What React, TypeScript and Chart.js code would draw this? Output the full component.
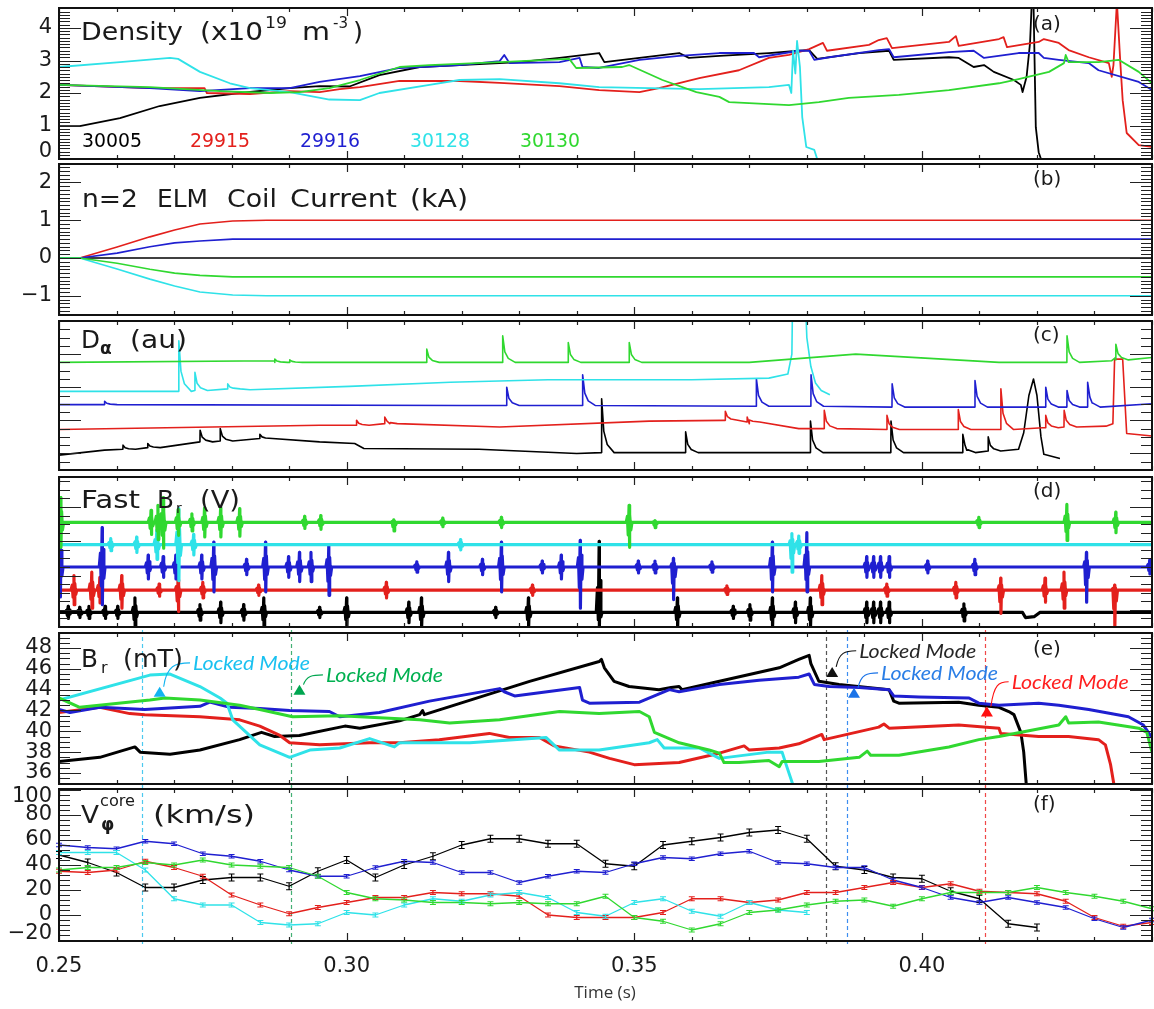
import React, { useEffect, useRef } from 'react';
import { Chart, registerables } from 'chart.js';

Chart.register(...registerables);

type P = [number, number];

const W = 1154;
const H = 1009;
const FONT = '"DejaVu Sans", "Liberation Sans", sans-serif';
const INK = '#1a1a1a';

// ---------- shared axis ----------
const T_START = 0.25;
const T_END = 0.44;
const X_MAJOR = [0.25, 0.3, 0.35, 0.4];
const X_MAJOR_LABELS = ['0.25', '0.30', '0.35', '0.40'];
const X_MINOR_STEP = 0.01;
const X_TITLE = 'Time (s)';

const SHOTS = ['30005', '29915', '29916', '30128', '30130'];
const SHOT_COLORS = ['#000000', '#e3201c', '#1f1fd0', '#2fe2e8', '#30d830'];

// ---------- (a) density ----------
const DENS_30005: P[] = [[0.25,0.98],[0.2536,0.98],[0.2606,1.23],[0.2675,1.6],[0.2745,1.85],[0.2814,2.0],[0.2901,2.15],[0.2953,2.21],[0.3005,2.2],[0.3057,2.55],[0.3127,2.8],[0.3196,2.86],[0.33,2.95],[0.337,3.08],[0.3439,3.23],[0.3448,2.95],[0.3509,3.08],[0.3578,3.23],[0.3595,3.08],[0.3648,3.14],[0.3734,3.23],[0.3786,3.3],[0.3804,3.32],[0.3818,3.05],[0.3891,3.23],[0.3943,3.3],[0.3951,3.02],[0.4047,3.1],[0.4064,3.08],[0.409,2.8],[0.4108,2.86],[0.4125,2.65],[0.416,2.4],[0.4172,2.25],[0.4175,2.03],[0.4182,2.5],[0.4188,3.54],[0.4191,4.8],[0.4194,4.8],[0.4198,0.95],[0.4203,0.18],[0.4207,-0.03]];
const DENS_29915: P[] = [[0.25,2.25],[0.2658,2.15],[0.2753,2.15],[0.2757,2.0],[0.2832,1.97],[0.2901,2.06],[0.2953,2.03],[0.2988,2.12],[0.3023,2.18],[0.3092,2.37],[0.3196,2.37],[0.3266,2.31],[0.337,2.21],[0.3439,2.09],[0.3509,2.03],[0.3543,2.15],[0.3613,2.46],[0.3682,2.7],[0.3734,3.08],[0.3769,3.17],[0.3804,3.35],[0.3828,3.54],[0.3835,3.3],[0.3908,3.48],[0.3925,3.63],[0.3939,3.69],[0.3948,3.38],[0.4047,3.57],[0.4059,3.75],[0.4064,3.45],[0.4134,3.66],[0.4142,3.72],[0.4148,3.41],[0.4203,3.57],[0.4212,3.66],[0.4238,3.54],[0.4255,3.32],[0.429,3.1],[0.4325,2.92],[0.433,2.5],[0.4333,2.86],[0.4339,4.8],[0.4345,2.92],[0.4349,1.78],[0.4356,0.77],[0.4377,0.4],[0.44,0.34]];
const DENS_29916: P[] = [[0.25,2.25],[0.2658,2.15],[0.2745,2.06],[0.2832,2.15],[0.2901,2.15],[0.2953,2.34],[0.3023,2.52],[0.3092,2.77],[0.3196,2.86],[0.3266,2.98],[0.3274,3.17],[0.3283,2.92],[0.337,2.95],[0.3405,3.08],[0.341,2.8],[0.3439,2.77],[0.3509,3.02],[0.3578,3.14],[0.3648,3.23],[0.3708,3.23],[0.3717,3.1],[0.3786,3.3],[0.3804,3.3],[0.3813,3.02],[0.3839,3.1],[0.3925,3.32],[0.3943,3.35],[0.3951,3.1],[0.4047,3.26],[0.409,3.3],[0.4108,3.08],[0.4168,3.23],[0.4203,3.23],[0.4212,3.08],[0.4238,3.02],[0.429,2.92],[0.4307,2.7],[0.4377,2.34],[0.44,2.09]];
const DENS_30128: P[] = [[0.25,2.8],[0.2606,2.95],[0.2693,3.08],[0.2707,3.05],[0.2745,2.65],[0.2797,2.3],[0.2832,2.15],[0.2901,2.03],[0.297,1.8],[0.3023,1.78],[0.3057,2.0],[0.3144,2.25],[0.3196,2.4],[0.3266,2.43],[0.337,2.3],[0.3439,2.18],[0.3526,2.15],[0.3613,2.12],[0.3734,2.18],[0.3769,2.25],[0.3773,2.0],[0.3776,3.3],[0.378,2.6],[0.3783,3.6],[0.3788,2.8],[0.3792,1.26],[0.3799,0.34],[0.3813,0.25],[0.3818,-0.03]];
const DENS_30130: P[] = [[0.25,2.25],[0.2658,2.18],[0.278,2.06],[0.2866,2.0],[0.2918,2.03],[0.297,2.15],[0.3023,2.4],[0.3092,2.8],[0.3144,2.86],[0.3266,2.95],[0.3387,3.05],[0.3399,2.77],[0.3479,2.8],[0.3491,2.86],[0.3549,2.4],[0.3608,2.03],[0.3648,1.88],[0.3665,1.72],[0.3734,1.66],[0.3769,1.63],[0.3821,1.72],[0.3873,1.85],[0.396,1.94],[0.4047,2.09],[0.4134,2.3],[0.4168,2.43],[0.4221,2.65],[0.4247,2.92],[0.425,3.17],[0.4255,2.95],[0.4307,2.95],[0.4342,3.02],[0.4377,2.65],[0.44,2.3]];

// ---------- (b) n=2 ELM coil current ----------
const COIL_30005: P[] = [[0.25,0],[0.44,0]];
const COIL_29915: P[] = [[0.25,0],[0.2536,0],[0.2601,0.29],[0.2658,0.56],[0.2701,0.74],[0.2745,0.9],[0.2802,0.98],[0.2861,1.0],[0.44,1.0]];
const COIL_29916: P[] = [[0.25,0],[0.2536,0],[0.2601,0.13],[0.2658,0.3],[0.2701,0.4],[0.2745,0.45],[0.2802,0.5],[0.44,0.5]];
const COIL_30128: P[] = [[0.25,0],[0.2536,0],[0.2601,-0.29],[0.2658,-0.56],[0.2701,-0.74],[0.2745,-0.9],[0.2802,-0.98],[0.2861,-1.0],[0.44,-1.0]];
const COIL_30130: P[] = [[0.25,0],[0.2536,0],[0.2601,-0.14],[0.2658,-0.3],[0.2701,-0.4],[0.2745,-0.46],[0.2802,-0.5],[0.44,-0.5]];

// ---------- (c) D-alpha: baseline points + ELM spikes [t, base, peak] ----------
const DA_30005_BASE: P[] = [[0.25,1.8],[0.2579,2.4],[0.2745,3.4],[0.2849,3.8],[0.2953,3.4],[0.3014,3.2],[0.303,2.6],[0.323,2.5],[0.34,2.0],[0.4071,2.1],[0.4078,2.4],[0.4168,2.5],[0.4177,4.5],[0.4186,9.0],[0.4194,11.0],[0.42,9.0],[0.4207,4.0],[0.4212,1.9],[0.424,1.4]];
const DA_30005_ELM = [[0.2611,2.5,3.0],[0.2654,2.7,3.2],[0.2745,3.4,4.8],[0.278,3.5,5.0],[0.2849,3.8,4.3],[0.3443,2.1,8.6],[0.3589,2.1,4.6],[0.3806,2.1,5.9],[0.3946,2.1,5.9],[0.4071,2.1,4.3],[0.4115,2.3,4.0]];
const DA_29915_BASE: P[] = [[0.25,4.9],[0.2953,5.4],[0.3075,5.6],[0.3266,5.2],[0.3526,5.9],[0.3655,6.0],[0.37,5.6],[0.3786,5.0],[0.4,4.9],[0.421,5.1],[0.432,5.3],[0.4332,5.6],[0.4335,13.4],[0.4349,13.4],[0.4356,4.4],[0.44,4.1]];
const DA_29915_ELM = [[0.3017,5.4,6.0],[0.3066,5.6,6.4],[0.3658,6.0,7.1],[0.3696,5.8,6.4],[0.383,5.0,7.2],[0.3939,4.9,6.6],[0.4063,4.9,7.3],[0.4137,4.9,9.8],[0.4215,5.1,6.6],[0.4247,5.2,7.2]];
const DA_29916_BASE: P[] = [[0.25,7.9],[0.32,7.8],[0.4,7.6],[0.4288,7.6],[0.4296,8.1],[0.44,8.0]];
const DA_29916_ELM = [[0.2579,7.9,8.3],[0.3278,7.8,10.0],[0.341,7.8,11.5],[0.3712,7.7,11.0],[0.3807,7.7,11.5],[0.3948,7.6,10.4],[0.4092,7.6,10.8],[0.4215,7.6,10.0],[0.4252,7.6,9.6],[0.4288,7.6,10.6]];
const DA_30128_BASE: P[] = [[0.25,9.5],[0.2693,9.5],[0.2832,9.7],[0.3005,10.1],[0.318,10.6],[0.335,10.9],[0.36,10.9],[0.3734,11.1],[0.3767,11.6],[0.3774,14],[0.3776,25],[0.3795,25],[0.38,16],[0.3807,12.5],[0.3815,10.5],[0.3825,9.6],[0.384,9.1]];
const DA_30128_ELM = [[0.2708,9.5,15.6],[0.2736,9.6,11.8],[0.2793,9.8,10.4]];
const DA_30130_BASE: P[] = [[0.25,13.0],[0.2875,13.2],[0.29,13.0],[0.37,13.0],[0.3885,14.0],[0.4134,13.0],[0.4252,13.0],[0.433,13.2],[0.4337,13.6],[0.44,13.6]];
const DA_30130_ELM = [[0.2875,13.0,13.4],[0.2901,13.0,13.3],[0.3139,13.0,14.6],[0.3271,13.0,16.2],[0.3385,13.0,15.4],[0.3491,13.0,15.4],[0.4252,13.0,16.2],[0.4337,13.3,15.2]];

// ---------- (d) fast B_r: offset level + bursts [t, up, down] ----------
const FB_LEVEL = [1.7, 4.3, 7.0, 9.6, 12.2];
const FB_30005 = [[0.2516,0.7],[0.2536,0.6],[0.2552,0.7],[0.258,0.7],[0.2602,0.7],[0.2632,1.7],[0.2745,0.9],[0.2781,1.2],[0.2821,0.9],[0.2856,1.7],[0.2953,0.6],[0.3,1.7],[0.3108,1.2],[0.313,1.7],[0.3259,0.6],[0.3316,1.7],[0.3439,8.3,1.7],[0.3575,1.7],[0.3672,0.7],[0.3701,0.9],[0.374,1.7],[0.378,1.2],[0.3806,1.7],[0.3904,1.2],[0.3916,1.2],[0.3928,1.2],[0.3943,1.2],[0.4073,1.0]];
const FB_30005_DIP: P[] = [[0.4175,1.7],[0.418,1.1],[0.4195,1.2],[0.4205,1.7]];
const FB_29915 = [[0.2526,1.7],[0.2557,2.1],[0.2571,1.5],[0.2609,1.7,2.1],[0.2674,0.7],[0.2707,1.2,2.5],[0.275,0.9],[0.2847,0.6],[0.3069,0.9],[0.3323,0.6],[0.3661,0.5],[0.3826,1.7],[0.3939,0.7],[0.4059,0.9],[0.4137,1.4,2.7],[0.4214,1.4],[0.4247,2.1],[0.4335,0.6,4.3]];
const FB_29916 = [[0.2502,4.3,3.5],[0.2575,4.6,4.4],[0.2655,1.4],[0.2681,1.2],[0.2703,1.4],[0.2748,1.4],[0.2769,2.9],[0.2826,0.9],[0.2859,2.9],[0.2899,1.2],[0.2918,1.7],[0.2938,1.7],[0.2969,2.5,3.3],[0.3122,0.6],[0.3177,1.7],[0.3236,0.9],[0.3269,2.9],[0.334,0.7],[0.3373,1.4],[0.3406,3.1,4.8],[0.3507,0.7],[0.3536,0.7],[0.3568,1.0,3.8],[0.3635,0.6],[0.374,2.9],[0.38,4.0,2.9],[0.3904,1.2],[0.3916,1.2],[0.3928,1.2],[0.3943,1.2],[0.401,0.7],[0.4092,0.9],[0.4286,1.7,4.1],[0.4396,0.8]];
const FB_30128 = [[0.259,0.7],[0.2635,0.9],[0.267,1.7],[0.2708,4.2],[0.2734,1.2],[0.3198,0.6],[0.3774,1.3,3.2],[0.3786,1.0]];
const FB_30130 = [[0.2503,2.9],[0.266,1.4],[0.2672,2.0],[0.2681,2.9,3.0],[0.2707,1.5],[0.2731,1.0],[0.2753,1.7],[0.2781,1.7],[0.2814,1.6],[0.2927,0.7],[0.2955,0.8],[0.3082,0.3,1.0],[0.3167,0.5],[0.3269,0.6],[0.3491,2.0,2.9],[0.3536,0.2,0.6],[0.4099,0.6],[0.4252,2.1],[0.4337,1.2]];

// ---------- (e) B_r (mT) ----------
const BR_30005: P[] = [[0.25,37.1],[0.2571,37.5],[0.2632,38.5],[0.2641,38.0],[0.2693,37.8],[0.2745,38.2],[0.2814,39.2],[0.2852,39.9],[0.2875,39.5],[0.2918,39.6],[0.2997,40.5],[0.3023,40.3],[0.3092,41.0],[0.3127,41.6],[0.3132,42.0],[0.3135,41.6],[0.3318,44.8],[0.3439,46.7],[0.3443,46.9],[0.3448,46.1],[0.3465,44.8],[0.3491,44.3],[0.3543,44.0],[0.3564,44.2],[0.3578,44.3],[0.3583,44.0],[0.3648,44.8],[0.3752,46.1],[0.3786,46.9],[0.3804,47.3],[0.3807,46.5],[0.3821,44.8],[0.3856,44.5],[0.3943,44.0],[0.3951,42.9],[0.396,42.7],[0.4064,42.8],[0.4099,42.5],[0.4134,42.3],[0.4151,41.9],[0.416,41.6],[0.4172,39.9],[0.4177,38.0],[0.4182,34.5]];
const BR_29915: P[] = [[0.25,41.8],[0.2571,42.3],[0.2623,41.7],[0.2649,41.6],[0.2745,41.4],[0.2814,41.1],[0.2849,40.5],[0.2884,39.6],[0.2901,38.9],[0.2953,38.7],[0.304,38.9],[0.3092,38.9],[0.3161,39.2],[0.3248,39.8],[0.3283,39.4],[0.3335,39.4],[0.3361,38.6],[0.3422,38.0],[0.3457,37.4],[0.35,36.8],[0.3578,37.0],[0.3648,37.9],[0.3691,38.6],[0.37,38.2],[0.3752,38.4],[0.3786,38.8],[0.3826,39.7],[0.383,39.2],[0.3925,40.4],[0.3934,40.7],[0.3943,40.3],[0.4064,40.6],[0.4134,40.3],[0.4137,39.8],[0.4203,39.5],[0.4255,39.5],[0.4307,39.2],[0.4319,38.7],[0.4328,36.8],[0.4335,34.5]];
const BR_29916: P[] = [[0.25,42.1],[0.2519,41.8],[0.2571,42.3],[0.2649,42.1],[0.2745,42.4],[0.2762,42.8],[0.2797,42.3],[0.2849,42.2],[0.2901,42.0],[0.297,41.9],[0.2988,41.4],[0.3057,41.8],[0.3144,42.9],[0.3266,44.1],[0.3274,43.8],[0.3292,43.4],[0.3405,44.2],[0.341,43.0],[0.3422,42.7],[0.3509,42.8],[0.3561,44.0],[0.3578,43.8],[0.3648,44.5],[0.3717,44.9],[0.3786,45.2],[0.3804,45.5],[0.3813,44.5],[0.3839,44.3],[0.3891,44.2],[0.3943,44.0],[0.3951,43.4],[0.3995,43.3],[0.4082,43.2],[0.4099,42.7],[0.4134,42.5],[0.4203,42.7],[0.4238,42.5],[0.429,42.1],[0.4359,41.4],[0.4385,40.6],[0.44,39.4]];
const BR_30128: P[] = [[0.25,43.0],[0.2658,45.4],[0.2693,45.5],[0.2745,44.3],[0.278,43.2],[0.2792,42.7],[0.2802,41.1],[0.2849,38.7],[0.2901,37.5],[0.2936,38.2],[0.2988,38.4],[0.304,39.3],[0.3083,38.5],[0.3092,38.9],[0.3214,38.9],[0.3347,39.4],[0.337,38.2],[0.3439,38.2],[0.3526,38.9],[0.354,39.2],[0.3552,38.4],[0.3613,38.4],[0.3648,37.4],[0.3734,38.0],[0.3757,38.0],[0.3764,36.8],[0.3778,34.5]];
const BR_30130: P[] = [[0.25,43.2],[0.2536,42.3],[0.2658,43.0],[0.2684,43.2],[0.2745,43.0],[0.2814,42.5],[0.2849,42.1],[0.2906,41.4],[0.2988,41.5],[0.3057,41.3],[0.3127,41.1],[0.3179,40.8],[0.3266,41.1],[0.337,41.9],[0.3439,41.7],[0.3509,41.9],[0.3526,41.4],[0.3535,39.9],[0.3578,38.9],[0.363,38.2],[0.3648,37.9],[0.3656,37.0],[0.3682,37.0],[0.3734,37.2],[0.3752,36.6],[0.3757,37.1],[0.3821,37.1],[0.3891,37.5],[0.3905,38.1],[0.3911,37.7],[0.396,37.7],[0.4047,38.5],[0.4099,39.2],[0.4134,39.5],[0.4238,40.6],[0.425,41.4],[0.4255,40.8],[0.4307,40.9],[0.4377,40.3],[0.4391,39.9],[0.44,38.0]];

// ---------- (f) core toroidal rotation (km/s), CER samples ----------
const VPHI_T = [0.25,0.255,0.26,0.265,0.27,0.275,0.28,0.285,0.29,0.295,0.3,0.305,0.31,0.315,0.32,0.325,0.33,0.335,0.34,0.345,0.35,0.355,0.36,0.365,0.37,0.375,0.38,0.385,0.39,0.395,0.4,0.405,0.41,0.415,0.42,0.425,0.43,0.435,0.44];
const VPHI_30005 = [48,42,34,22,22,28,30,30,23,35,44,30,40,47,56,61,61,57,57,41,39,56,59,62,66,68,61,39,36,30,29,19,13,-7,-10];
const VPHI_29915 = [35,34,36,43,38,31,16,8,1,6,10,14,14,18,17,17,15,0,-2,-2,-2,2,13,13,10,12,18,18,22,26,22,25,19,18,17,11,-2,-9,-6];
const VPHI_29916 = [56,54,53,59,57,49,47,43,36,31,31,38,43,42,34,34,26,31,35,34,41,46,45,49,51,42,41,38,38,28,22,14,10,14,10,6,-3,-10,-4];
const VPHI_30128 = [50,50,50,36,13,8,8,-6,-8,-7,2,0,8,13,11,16,18,14,2,-1,10,13,3,-1,10,4,2];
const VPHI_30130 = [36,38,38,42,40,44,40,39,38,31,18,13,12,10,10,9,10,9,9,15,-2,-5,-12,-7,2,4,8,11,12,7,13,18,18,18,22,18,15,11,5];
const VPHI_ERR = [2.8, 1.6, 1.4, 1.6, 1.6];

// ---------- locked modes ----------
const LOCK_LABEL = 'Locked Mode';
const LOCK_SHOT = ['30128', '30130', '30005', '29916', '29915'];
const LOCK_T = [0.2644, 0.2903, 0.3833, 0.387, 0.4109];
const LOCK_MARK_T = [0.2675, 0.2918, 0.3844, 0.3882, 0.4113];
const LOCK_MARK_BR = [43.8, 44.0, 45.7, 43.7, 41.9];
// annotation layout (text anchor in data coords) and colours
const LOCK_STYLE = [
  { line: '#4cc9ef', text: '#19c1f0', mark: '#12b4f0', tx: 0.2733, ty: 45.9 },
  { line: '#44b074', text: '#00b050', mark: '#00a650', tx: 0.2964, ty: 44.75 },
  { line: '#555555', text: '#262626', mark: '#111111', tx: 0.3891, ty: 47.06 },
  { line: '#3d8ef0', text: '#2a7ee6', mark: '#1a73e8', tx: 0.3929, ty: 44.94 },
  { line: '#f04848', text: '#ff1f1f', mark: '#ff1010', tx: 0.4156, ty: 44.08 },
];

// ---------- helpers ----------
function spiky(base: P[], spikes: number[][]): P[] {
  const pts: P[] = base.slice();
  for (const [t, b, p] of spikes) {
    const h = p - b;
    pts.push([t, b], [t + 0.00003, p], [t + 0.0004, b + h * 0.4], [t + 0.001, b + h * 0.15], [t + 0.0022, b]);
  }
  return pts.sort((a, b) => a[0] - b[0]);
}

function bursty(level: number, bursts: number[][], extra: P[] = []): P[] {
  const pts: P[] = [[T_START, level], [T_END, level], ...extra];
  for (const bb of bursts) {
    const t = bb[0];
    const up = bb[1];
    const dn = bb.length > 2 ? bb[2] : up;
    const w = 0.0005;
    pts.push(
      [t - w, level], [t - w * 0.6, level + up * 0.35], [t - w * 0.3, level - dn * 0.5],
      [t, level + up], [t + 0.00004, level - dn],
      [t + w * 0.3, level + up * 0.45], [t + w * 0.6, level - dn * 0.3], [t + w, level],
    );
  }
  return pts.sort((a, b) => a[0] - b[0]);
}

const zipT = (vals: number[]): P[] => vals.map((v, i) => [VPHI_T[i], v]);

interface Series { data: P[]; color: string; width: number; err?: number; }
interface Txt { text: string; x: number; y: number; size: number; color?: string; weight?: string; style?: string; family?: string; align?: CanvasTextAlign; spacing?: number; fit?: number; }
interface PanelCfg {
  id: string; top: number; bottom: number; yMin: number; yMax: number;
  yMajor: number[]; yLabels: string[] | null; yMinorStep: number;
  series: Series[]; texts: Txt[]; xLabels?: boolean; locks?: boolean; annotate?: boolean;
}

// text piece: string, left x, baseline y, size, fitted width
const tt = (text: string, x: number, y: number, size = 25, fit?: number, extra: Partial<Txt> = {}): Txt => ({ text, x, y, size, fit, ...extra });

const LEGEND_X = [82, 190, 300, 410, 520];

const PANELS: PanelCfg[] = [
  {
    id: 'a', top: 8, bottom: 159, yMin: -0.03, yMax: 4.615,
    yMajor: [0, 1, 2, 3, 4], yLabels: ['0', '1', '2', '3', '4'], yMinorStep: 0.1,
    series: [DENS_30005, DENS_29915, DENS_29916, DENS_30128, DENS_30130].map((d, i) => ({ data: d, color: SHOT_COLORS[i], width: 1.8 })),
    texts: [
      tt('Density', 81, 40, 25, 102), tt('(x10', 200, 40, 25, 63), tt('19', 265, 28, 16, 22), tt('m', 302, 40, 25, 28), tt('-3', 333, 28, 16, 15), tt(')', 353, 40, 25, 10),
      tt('(a)', 1033, 30, 20),
      ...SHOTS.map((s, i) => tt(s, LEGEND_X[i], 147, 20, 60, { color: SHOT_COLORS[i] })),
    ],
  },
  {
    id: 'b', top: 164, bottom: 315, yMin: -1.51, yMax: 2.49,
    yMajor: [-1, 0, 1, 2], yLabels: ['\u22121', '0', '1', '2'], yMinorStep: 0.1,
    series: [COIL_30005, COIL_29915, COIL_29916, COIL_30128, COIL_30130].map((d, i) => ({ data: d, color: SHOT_COLORS[i], width: 1.6 })),
    texts: [tt('n=2', 82, 207, 25, 56), tt('ELM', 157, 207, 25, 51), tt('Coil', 227, 207, 25, 50), tt('Current', 290, 207, 25, 107), tt('(kA)', 410, 207, 25, 58), tt('(b)', 1033, 185, 20)],
  },
  {
    id: 'c', top: 321, bottom: 470, yMin: 0, yMax: 18,
    yMajor: [2, 6, 10, 14], yLabels: null, yMinorStep: 1,
    series: [
      spiky(DA_30005_BASE, DA_30005_ELM), spiky(DA_29915_BASE, DA_29915_ELM), spiky(DA_29916_BASE, DA_29916_ELM),
      spiky(DA_30128_BASE, DA_30128_ELM), spiky(DA_30130_BASE, DA_30130_ELM),
    ].map((d, i) => ({ data: d, color: SHOT_COLORS[i], width: 1.6 })),
    texts: [tt('D', 81, 348, 25, 19), tt('\u03b1', 100, 354, 17, undefined, { weight: 'bold' }), tt('(au)', 130, 348, 25, 57), tt('(c)', 1033, 341, 20)],
  },
  {
    id: 'd', top: 477, bottom: 627, yMin: 0, yMax: 17.5,
    yMajor: [2, 6, 10, 14], yLabels: null, yMinorStep: 1,
    series: [
      bursty(FB_LEVEL[0], FB_30005, FB_30005_DIP), bursty(FB_LEVEL[1], FB_29915), bursty(FB_LEVEL[2], FB_29916),
      bursty(FB_LEVEL[3], FB_30128), bursty(FB_LEVEL[4], FB_30130),
    ].map((d, i) => ({ data: d, color: SHOT_COLORS[i], width: 3.2 })),
    texts: [tt('Fast', 81, 508, 25, 59), tt('B', 157, 508, 25, 17), tt('r', 176, 513, 14), tt('(V)', 200, 508, 25, 40), tt('(d)', 1033, 497, 20)],
  },
  {
    id: 'e', top: 633, bottom: 784, yMin: 34.94, yMax: 49.44,
    yMajor: [36, 38, 40, 42, 44, 46, 48], yLabels: ['36', '38', '40', '42', '44', '46', '48'], yMinorStep: 0.5,
    series: [BR_30005, BR_29915, BR_29916, BR_30128, BR_30130].map((d, i) => ({ data: d, color: SHOT_COLORS[i], width: 3 })),
    texts: [tt('B', 81, 667, 25, 17), tt('r', 101, 673, 16), tt('(mT)', 123, 667, 25, 60), tt('(e)', 1033, 655, 20)],
    locks: true, annotate: true,
  },
  {
    id: 'f', top: 789, bottom: 941, yMin: -20.8, yMax: 100.8,
    yMajor: [-20, 0, 20, 40, 60, 80, 100], yLabels: ['\u221220', '0', '20', '40', '60', '80', '100'], yMinorStep: 4,
    series: [VPHI_30005, VPHI_29915, VPHI_29916, VPHI_30128, VPHI_30130].map((v, i) => ({ data: zipT(v), color: SHOT_COLORS[i], width: 1.3, err: VPHI_ERR[i] })),
    texts: [tt('V', 81, 823, 25, 18), tt('core', 100, 806, 16, 35), tt('\u03c6', 101, 830, 17, undefined, { weight: 'bold' }), tt('(km/s)', 153, 823, 25, 102), tt('(f)', 1033, 810, 20)],
    xLabels: true, locks: true,
  },
];

function drawText(ctx: CanvasRenderingContext2D, t: Txt) {
  ctx.save();
  ctx.font = `${t.style ?? 'normal'} ${t.weight ?? 'normal'} ${t.size}px ${t.family ?? FONT}`;
  ctx.fillStyle = t.color ?? INK;
  ctx.textAlign = t.align ?? 'left';
  ctx.textBaseline = 'alphabetic';
  (ctx as any).letterSpacing = `${t.spacing ?? 0}px`;
  if (t.fit) {
    const w = ctx.measureText(t.text).width;
    ctx.translate(t.x, t.y);
    ctx.scale(t.fit / w, 1);
    ctx.fillText(t.text, 0, 0);
  } else {
    ctx.fillText(t.text, t.x, t.y);
  }
  ctx.restore();
}

function makePlugin(cfg: PanelCfg) {
  return {
    id: 'idlframe_' + cfg.id,
    beforeDatasetsDraw(chart: any) {
      if (!cfg.locks) return;
      const { ctx, chartArea: ca } = chart;
      const xs = chart.scales.x;
      ctx.save();
      ctx.setLineDash([4, 3]);
      ctx.lineWidth = 1.2;
      LOCK_T.forEach((t, i) => {
        const x = Math.round(xs.getPixelForValue(t)) + 0.5;
        ctx.strokeStyle = LOCK_STYLE[i].line;
        ctx.beginPath();
        ctx.moveTo(x, ca.top - 3);
        ctx.lineTo(x, ca.bottom + 3);
        ctx.stroke();
      });
      ctx.restore();
    },
    afterDatasetsDraw(chart: any) {
      const { ctx } = chart;
      const xs = chart.scales.x, ys = chart.scales.y;
      ctx.save();
      cfg.series.forEach((s) => {
        if (!s.err) return;
        ctx.strokeStyle = s.color;
        ctx.lineWidth = 1.2;
        ctx.beginPath();
        for (const [t, v] of s.data) {
          const x = xs.getPixelForValue(t);
          const y1 = ys.getPixelForValue(v + s.err);
          const y2 = ys.getPixelForValue(v - s.err);
          ctx.moveTo(x, y1); ctx.lineTo(x, y2);
          ctx.moveTo(x - 3, y1); ctx.lineTo(x + 3, y1);
          ctx.moveTo(x - 3, y2); ctx.lineTo(x + 3, y2);
        }
        ctx.stroke();
      });
      if (cfg.annotate) {
        LOCK_T.forEach((_, i) => {
          const st = LOCK_STYLE[i];
          const mx = xs.getPixelForValue(LOCK_MARK_T[i]);
          const my = ys.getPixelForValue(LOCK_MARK_BR[i]);
          const tx = xs.getPixelForValue(st.tx);
          const ty = ys.getPixelForValue(st.ty);
          ctx.strokeStyle = st.mark;
          ctx.lineWidth = 1.1;
          ctx.setLineDash([]);
          const sx = mx + 4, sy = my - 5;
          const ex = tx - 3, ey = ty - 7;
          ctx.beginPath();
          ctx.moveTo(sx, sy);
          ctx.bezierCurveTo(sx + 3, sy - (sy - ey) * 0.9, ex - (ex - sx) * 0.55, ey, ex, ey);
          ctx.stroke();
          ctx.fillStyle = st.mark;
          ctx.beginPath();
          ctx.moveTo(mx, my - 5);
          ctx.lineTo(mx + 6, my + 5);
          ctx.lineTo(mx - 6, my + 5);
          ctx.closePath();
          ctx.fill();
          drawText(ctx, { text: LOCK_LABEL, x: tx, y: ty, size: 20, color: st.text, style: 'italic', family: 'Lato, "Open Sans", sans-serif', fit: 117 });
        });
      }
      ctx.restore();
    },
    afterDraw(chart: any) {
      const { ctx, chartArea: ca } = chart;
      const xs = chart.scales.x, ys = chart.scales.y;
      ctx.save();
      ctx.strokeStyle = '#222';
      ctx.lineWidth = 1.2;
      ctx.beginPath();
      const majLen = 22, minLen = 11;
      const n0 = Math.ceil(cfg.yMin / cfg.yMinorStep - 1e-9);
      const n1 = Math.floor(cfg.yMax / cfg.yMinorStep + 1e-9);
      for (let n = n0; n <= n1; n++) {
        const y = Math.round(ys.getPixelForValue(n * cfg.yMinorStep)) + 0.5;
        ctx.moveTo(ca.left, y); ctx.lineTo(ca.left + minLen, y);
        ctx.moveTo(ca.right, y); ctx.lineTo(ca.right - minLen, y);
      }
      for (const v of cfg.yMajor) {
        const y = Math.round(ys.getPixelForValue(v)) + 0.5;
        ctx.moveTo(ca.left, y); ctx.lineTo(ca.left + majLen, y);
        ctx.moveTo(ca.right, y); ctx.lineTo(ca.right - majLen, y);
      }
      const m0 = Math.round(T_START / X_MINOR_STEP), m1 = Math.round(T_END / X_MINOR_STEP);
      for (let m = m0; m <= m1; m++) {
        const x = Math.round(xs.getPixelForValue(m * X_MINOR_STEP)) + 0.5;
        ctx.moveTo(x, ca.top); ctx.lineTo(x, ca.top + 4);
        ctx.moveTo(x, ca.bottom); ctx.lineTo(x, ca.bottom - 4);
      }
      for (const v of X_MAJOR) {
        const x = Math.round(xs.getPixelForValue(v)) + 0.5;
        ctx.moveTo(x, ca.top); ctx.lineTo(x, ca.top + 8);
        ctx.moveTo(x, ca.bottom); ctx.lineTo(x, ca.bottom - 8);
      }
      ctx.stroke();
      ctx.lineWidth = 2;
      ctx.strokeStyle = '#111';
      ctx.strokeRect(ca.left, ca.top, ca.right - ca.left, ca.bottom - ca.top);

      if (cfg.yLabels) {
        ctx.font = `21px ${FONT}`;
        ctx.fillStyle = INK;
        ctx.textAlign = 'right';
        ctx.textBaseline = 'middle';
        cfg.yMajor.forEach((v, i) => {
          let y = ys.getPixelForValue(v);
          y = Math.max(ca.top + 8, Math.min(ca.bottom - 7, y));
          ctx.fillText(cfg.yLabels![i], ca.left - 7, y);
        });
      }
      if (cfg.xLabels) {
        ctx.font = `21px ${FONT}`;
        ctx.fillStyle = INK;
        ctx.textAlign = 'center';
        ctx.textBaseline = 'alphabetic';
        X_MAJOR.forEach((v, i) => ctx.fillText(X_MAJOR_LABELS[i], xs.getPixelForValue(v), ca.bottom + 31));
        drawText(ctx, { text: X_TITLE, x: 605, y: 998, size: 17, align: 'center', color: '#333', family: '"Open Sans", sans-serif' });
      }
      cfg.texts.forEach((t) => drawText(ctx, t));
      ctx.restore();
    },
  };
}

function Panel({ cfg }: { cfg: PanelCfg }) {
  const ref = useRef<HTMLCanvasElement>(null);
  useEffect(() => {
    const canvas = ref.current;
    if (!canvas) return;
    const chart = new Chart(canvas, {
      type: 'line',
      data: {
        datasets: cfg.series.slice().reverse().map((s) => ({
          data: s.data.map(([x, y]) => ({ x, y })),
          borderColor: s.color,
          backgroundColor: s.color,
          borderWidth: s.width,
          pointRadius: 0,
          tension: 0,
          fill: false,
          borderJoinStyle: 'round' as const,
        })),
      },
      options: {
        animation: false,
        responsive: false,
        devicePixelRatio: 1,
        events: [],
        layout: { padding: { left: 59, right: 2, top: cfg.top, bottom: H - cfg.bottom } },
        plugins: { legend: { display: false }, tooltip: { enabled: false } },
        scales: {
          x: { type: 'linear', min: T_START, max: T_END, display: false },
          y: { type: 'linear', min: cfg.yMin, max: cfg.yMax, display: false },
        },
      },
      plugins: [makePlugin(cfg)],
    });
    return () => chart.destroy();
  }, [cfg]);
  return <canvas ref={ref} width={W} height={H} style={{ position: 'absolute', left: 0, top: 0, width: W, height: H }} />;
}

export default function App() {
  return (
    <div style={{ position: 'fixed', left: 0, top: 0, width: W, height: H, background: '#fff', overflow: 'hidden' }}>
      {PANELS.map((p) => <Panel key={p.id} cfg={p} />)}
    </div>
  );
}
